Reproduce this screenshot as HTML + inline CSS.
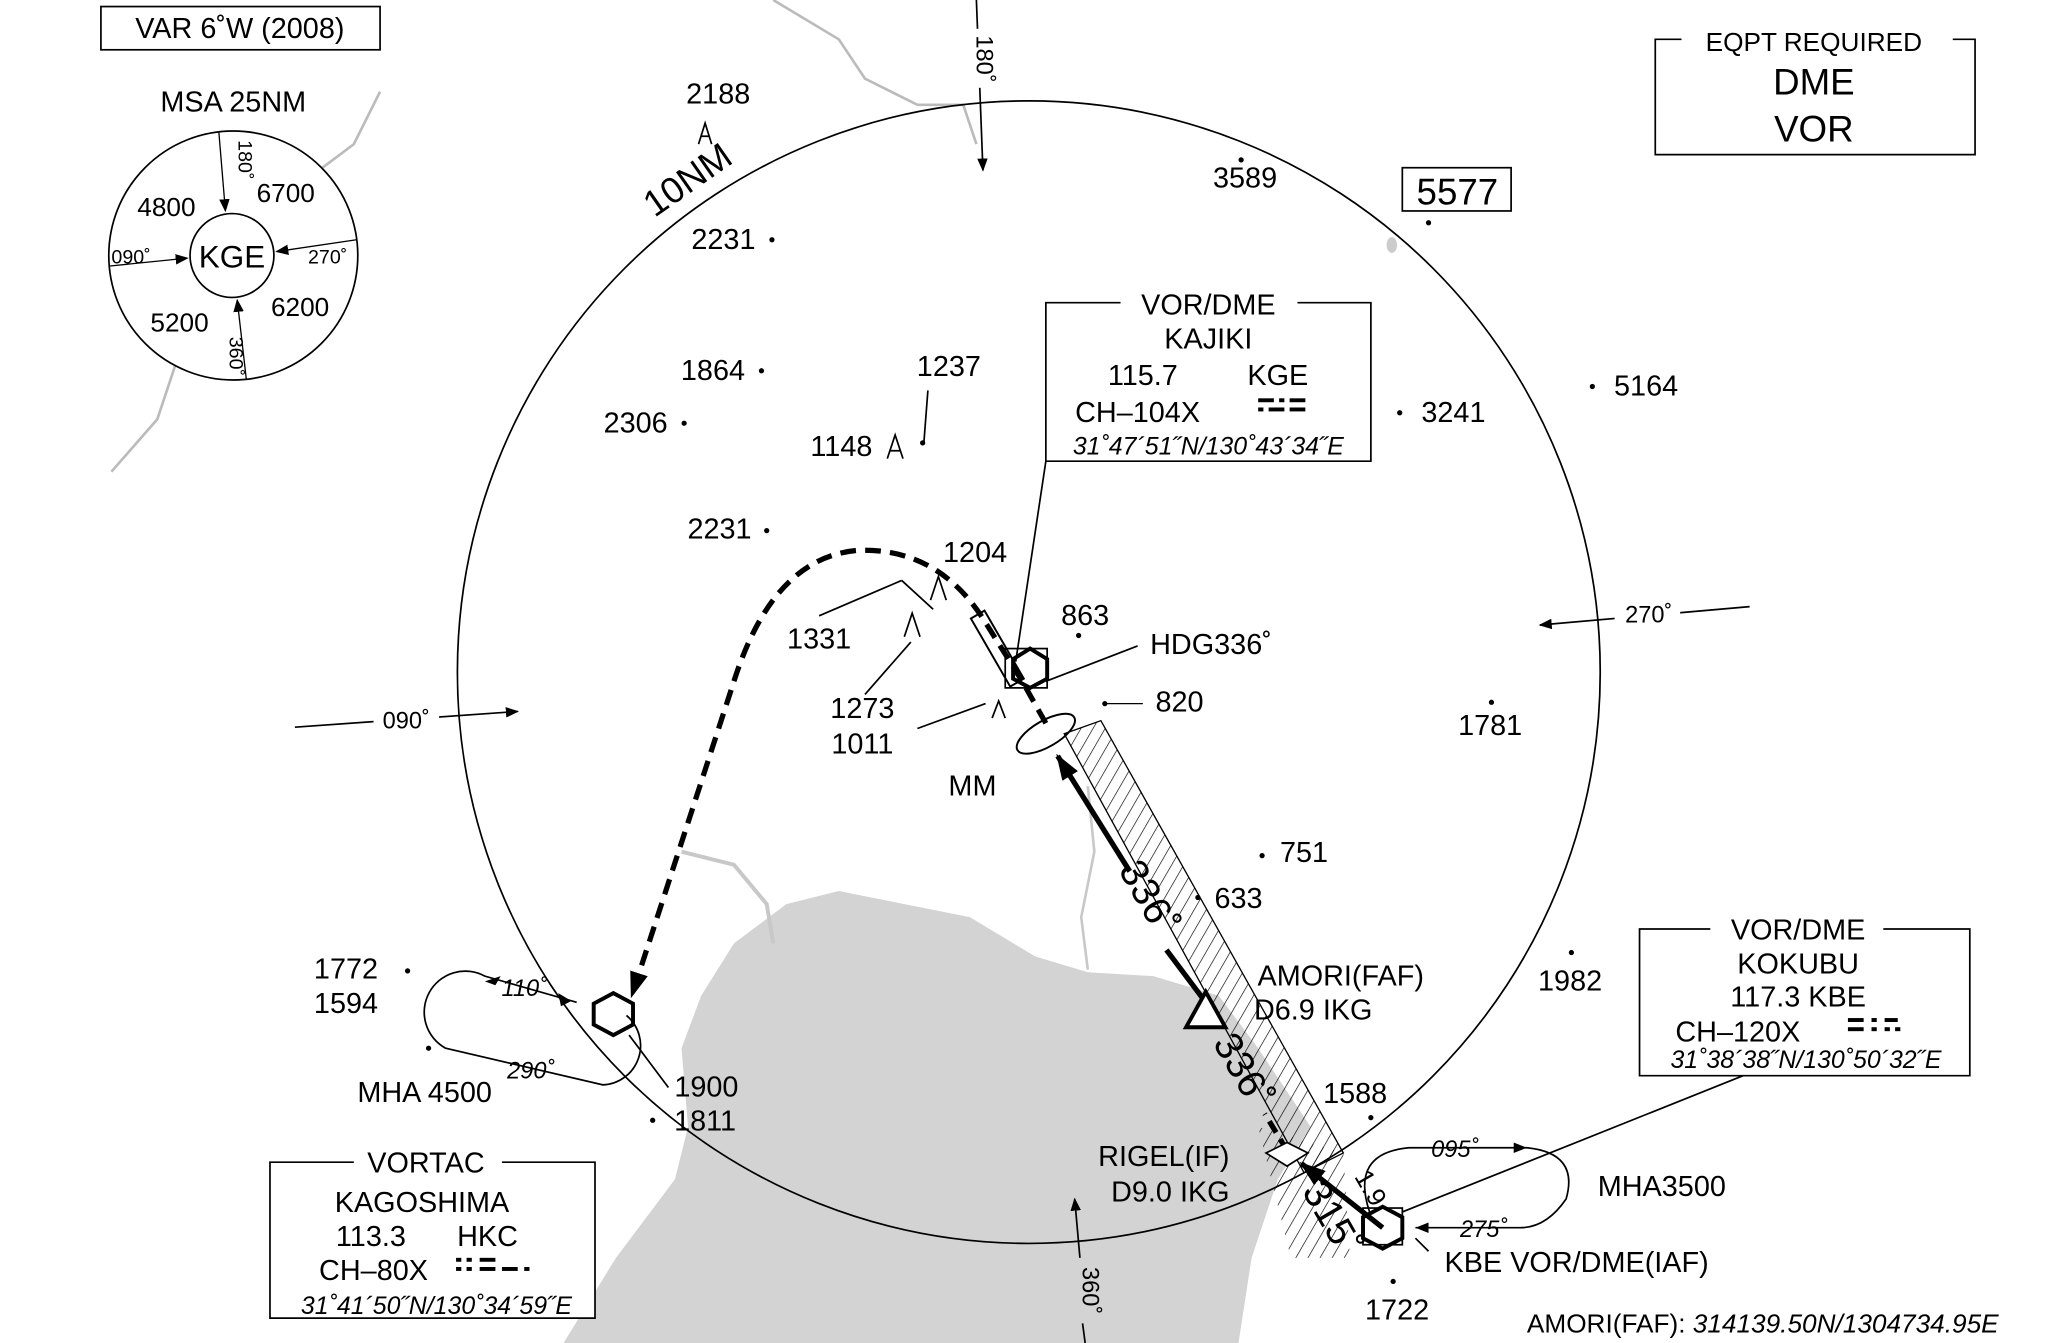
<!DOCTYPE html>
<html><head><meta charset="utf-8"><style>
html,body{margin:0;padding:0;background:#fff;}
svg{display:block;}
text{font-family:"Liberation Sans",sans-serif;fill:#000;}
</style></head><body>
<svg width="2055" height="1343" viewBox="0 0 1568 1025" preserveAspectRatio="none" xmlns="http://www.w3.org/2000/svg">
<defs>
<marker id="ar" markerWidth="10" markerHeight="8" refX="9" refY="4" orient="auto" markerUnits="userSpaceOnUse"><path d="M0,0 L10,4 L0,8 Z" fill="#000"/></marker>
<marker id="ab" markerWidth="20" markerHeight="14" refX="18" refY="7" orient="auto" markerUnits="userSpaceOnUse"><path d="M0,0 L20,7 L0,14 Z" fill="#000"/></marker>
<pattern id="hat" width="8" height="8" patternUnits="userSpaceOnUse" patternTransform="rotate(30)"><line x1="0" y1="0" x2="0" y2="8" stroke="#000" stroke-width="1"/></pattern>
</defs>
<!-- land -->
<path d="M430,1025 L470,960 L515,900 L525,860 L520,800 L535,760 L560,720 L600,690 L640,680 L690,690 L740,700 L790,730 L830,742 L880,745 L930,760 L960,800 L1000,860 L975,900 L955,960 L945,1025 Z" fill="#d3d3d3"/>
<path d="M520,650 L560,660 L585,690 L590,720" fill="none" stroke="#c8c8c8" stroke-width="3"/>
<path d="M830,600 L835,650 L825,700 L830,740" fill="none" stroke="#c8c8c8" stroke-width="2"/>
<path d="M590,0 L640,30 L660,60 L700,80 L735,80 L745,110" fill="none" stroke="#bbb" stroke-width="2"/>
<path d="M290,70 L270,110 L230,140 L200,150 L180,200 L140,260 L120,320 L85,360" fill="none" stroke="#bbb" stroke-width="2"/>
<ellipse cx="1062" cy="187" rx="4" ry="6" fill="#ccc"/>
<!-- hatched strip -->
<path d="M812,560 L840,550 L1025,880 L995,895 Z" fill="url(#hat)" stroke="#000" stroke-width="1"/>
<path d="M960,860 L1025,880 L1030,960 L985,960 Z" fill="url(#hat)"/>
<!-- main circle -->
<circle cx="785" cy="513" r="436" fill="none" stroke="#000" stroke-width="1.3"/>
<text x="530" y="145" font-size="28" transform="rotate(-35 530 145)" text-anchor="middle">10NM</text>
<!-- radials -->
<line x1="745" y1="0" x2="750" y2="130" stroke="#000" stroke-width="1.3" marker-end="url(#ar)"/>
<rect x="733" y="22" width="24" height="45" fill="#fff"/>
<text x="745" y="45" font-size="18" transform="rotate(90 745 45)" text-anchor="middle">180˚</text>
<line x1="225" y1="555" x2="395" y2="543" stroke="#000" stroke-width="1.3" marker-end="url(#ar)"/>
<rect x="285" y="537" width="50" height="22" fill="#fff"/><text x="310" y="556" font-size="18" text-anchor="middle">090˚</text>
<line x1="1335" y1="463" x2="1175" y2="477" stroke="#000" stroke-width="1.3" marker-end="url(#ar)"/>
<rect x="1232" y="457" width="50" height="22" fill="#fff"/><text x="1258" y="475" font-size="18" text-anchor="middle">270˚</text>
<line x1="828" y1="1025" x2="826" y2="1010" stroke="#000" stroke-width="1.3"/>
<line x1="824" y1="960" x2="820" y2="915" stroke="#000" stroke-width="1.3" marker-end="url(#ar)"/>
<text x="826" y="985" font-size="18" transform="rotate(90 826 985)" text-anchor="middle">360˚</text>
<!-- VAR box -->
<rect x="77" y="5" width="213" height="33" fill="none" stroke="#000" stroke-width="1.3"/>
<text x="183" y="29" font-size="22" text-anchor="middle">VAR 6˚W (2008)</text>
<!-- MSA -->
<text x="178" y="85" font-size="22" text-anchor="middle">MSA 25NM</text>
<circle cx="178" cy="195" r="95" fill="#fff" stroke="#000" stroke-width="1.3"/>
<circle cx="177" cy="195" r="32" fill="none" stroke="#000" stroke-width="1.3"/>
<text x="177" y="204" font-size="24" text-anchor="middle">KGE</text>
<line x1="167" y1="101" x2="172" y2="161" stroke="#000" marker-end="url(#ar)"/>
<line x1="188" y1="290" x2="181" y2="229" stroke="#000" marker-end="url(#ar)"/>
<line x1="84" y1="203" x2="143" y2="197" stroke="#000" marker-end="url(#ar)"/>
<line x1="272" y1="183" x2="211" y2="192" stroke="#000" marker-end="url(#ar)"/>
<text x="182" y="122" font-size="15" transform="rotate(90 182 122)" text-anchor="middle">180˚</text>
<text x="175" y="272" font-size="15" transform="rotate(90 175 272)" text-anchor="middle">360˚</text>
<text x="100" y="201" font-size="15" text-anchor="middle">090˚</text>
<text x="250" y="201" font-size="15" text-anchor="middle">270˚</text>
<text x="127" y="165" font-size="20" text-anchor="middle">4800</text>
<text x="218" y="154" font-size="20" text-anchor="middle">6700</text>
<text x="137" y="253" font-size="20" text-anchor="middle">5200</text>
<text x="229" y="241" font-size="20" text-anchor="middle">6200</text>
<!-- EQPT -->
<path d="M1283,30 L1263,30 L1263,118 L1507,118 L1507,30 L1490,30" fill="none" stroke="#000" stroke-width="1.3"/>
<text x="1384" y="39" font-size="20" text-anchor="middle">EQPT REQUIRED</text>
<text x="1384" y="72" font-size="28" text-anchor="middle">DME</text>
<text x="1384" y="108" font-size="28" text-anchor="middle">VOR</text>
<!-- 5577 -->
<rect x="1070" y="128" width="83" height="33" fill="none" stroke="#000" stroke-width="1.3"/>
<text x="1112" y="156" font-size="28" text-anchor="middle">5577</text>
<circle cx="1090" cy="170" r="2" fill="#000"/>
<!-- spot elevations -->
<g font-size="22">
<text x="548" y="79" text-anchor="middle">2188</text>
<text x="950" y="143" text-anchor="middle">3589</text><circle cx="947" cy="122" r="2"/>
<text x="552" y="190" text-anchor="middle">2231</text><circle cx="589" cy="183" r="2"/>
<text x="544" y="290" text-anchor="middle">1864</text><circle cx="581" cy="283" r="2"/>
<text x="724" y="287" text-anchor="middle">1237</text>
<text x="485" y="330" text-anchor="middle">2306</text><circle cx="522" cy="323" r="2"/>
<text x="642" y="348" text-anchor="middle">1148</text><circle cx="704" cy="338" r="2"/>
<text x="1109" y="322" text-anchor="middle">3241</text><circle cx="1068" cy="315" r="2"/>
<text x="1256" y="302" text-anchor="middle">5164</text><circle cx="1215" cy="295" r="2"/>
<text x="549" y="411" text-anchor="middle">2231</text><circle cx="585" cy="405" r="2"/>
<text x="744" y="429" text-anchor="middle">1204</text>
<text x="625" y="495" text-anchor="middle">1331</text>
<text x="828" y="477" text-anchor="middle">863</text><circle cx="823" cy="485" r="2"/>
<text x="658" y="548" text-anchor="middle">1273</text>
<text x="658" y="575" text-anchor="middle">1011</text>
<text x="900" y="543" text-anchor="middle">820</text><line x1="843" y1="537" x2="872" y2="537" stroke="#000"/><circle cx="843" cy="537" r="2"/>
<text x="1137" y="561" text-anchor="middle">1781</text><circle cx="1138" cy="536" r="2"/>
<text x="742" y="607" text-anchor="middle">MM</text>
<text x="995" y="658" text-anchor="middle">751</text><circle cx="963" cy="653" r="2"/>
<text x="945" y="693" text-anchor="middle">633</text><circle cx="914" cy="685" r="2"/>
<text x="1198" y="756" text-anchor="middle">1982</text><circle cx="1199" cy="727" r="2"/>
<text x="264" y="747" text-anchor="middle">1772</text><circle cx="311" cy="741" r="2"/>
<text x="264" y="773" text-anchor="middle">1594</text><circle cx="327" cy="800" r="2"/>
<text x="324" y="841" text-anchor="middle">MHA 4500</text>
<text x="539" y="837" text-anchor="middle">1900</text>
<text x="538" y="863" text-anchor="middle">1811</text><circle cx="498" cy="855" r="2"/>
<text x="1034" y="842" text-anchor="middle">1588</text><circle cx="1046" cy="853" r="2"/>
<text x="1023" y="752" text-anchor="middle">AMORI(FAF)</text>
<text x="1002" y="778" text-anchor="middle">D6.9 IKG</text>
<text x="888" y="890" text-anchor="middle">RIGEL(IF)</text>
<text x="893" y="917" text-anchor="middle">D9.0 IKG</text>
<text x="1268" y="913" text-anchor="middle">MHA3500</text>
<text x="1203" y="971" text-anchor="middle">KBE VOR/DME(IAF)</text>
<text x="1066" y="1007" text-anchor="middle">1722</text><circle cx="1063" cy="978" r="2"/>
<text x="924" y="499" text-anchor="middle">HDG336˚</text>
</g>
<text x="1525" y="1017" font-size="20" text-anchor="end">AMORI(FAF): <tspan font-style="italic">314139.50N/1304734.95E</tspan></text>
<!-- obstacle symbols -->
<g fill="none" stroke="#000" stroke-width="1.3">
<path d="M533,110 L538,94 L543,110 M535,104 L541,104"/>
<path d="M677,350 L683,332 L689,350 M679,344 L687,344"/>
<path d="M710,458 L716,440 L722,458"/>
<path d="M690,486 L696,468 L702,486"/>
<path d="M757,548 L762,535 L767,548"/>
<line x1="705" y1="337" x2="708" y2="298"/>
<line x1="625" y1="470" x2="688" y2="443"/>
<line x1="688" y1="443" x2="712" y2="465"/>
<line x1="700" y1="556" x2="752" y2="537"/>
<line x1="695" y1="490" x2="660" y2="530"/>
<line x1="798" y1="520" x2="868" y2="493"/>
<line x1="775" y1="505" x2="798" y2="352"/>
<line x1="1070" y1="925" x2="1330" y2="821"/>
<line x1="1080" y1="945" x2="1090" y2="955"/>
<line x1="480" y1="790" x2="510" y2="830"/>
</g>
<!-- KAJIKI box -->
<path d="M855,231 L798,231 L798,352 L1046,352 L1046,231 L990,231" fill="#fff" stroke="#000" stroke-width="1.3"/>
<g font-size="22" text-anchor="middle">
<text x="922" y="240">VOR/DME</text><text x="922" y="266">KAJIKI</text>
<text x="872" y="294">115.7</text><text x="975" y="294">KGE</text>
<text x="868" y="322">CH–104X</text>
</g>
<text x="922" y="347" font-size="19" font-style="italic" text-anchor="middle">31˚47´51˝N/130˚43´34˝E</text>
<g fill="#000"><rect x="960" y="304" width="12" height="3"/><rect x="976" y="304" width="4" height="3"/><rect x="984" y="304" width="12" height="3"/><rect x="960" y="311" width="4" height="3"/><rect x="968" y="311" width="12" height="3"/><rect x="984" y="311" width="12" height="3"/></g>
<!-- KOKUBU box -->
<path d="M1305,709 L1251,709 L1251,821 L1503,821 L1503,709 L1437,709" fill="#fff" stroke="#000" stroke-width="1.3"/>
<g font-size="22" text-anchor="middle">
<text x="1372" y="717">VOR/DME</text><text x="1372" y="743">KOKUBU</text>
<text x="1372" y="768">117.3 KBE</text><text x="1326" y="795">CH–120X</text>
</g>
<text x="1378" y="815" font-size="19" font-style="italic" text-anchor="middle">31˚38´38˝N/130˚50´32˝E</text>
<g fill="#000"><rect x="1410" y="777" width="12" height="3"/><rect x="1410" y="784" width="12" height="3"/><rect x="1428" y="777" width="4" height="3"/><rect x="1428" y="784" width="4" height="3"/><rect x="1438" y="777" width="10" height="3"/><rect x="1438" y="784" width="4" height="3"/><rect x="1446" y="784" width="4" height="3"/></g>
<!-- VORTAC box -->
<path d="M270,887 L206,887 L206,1006 L454,1006 L454,887 L383,887" fill="#fff" stroke="#000" stroke-width="1.3"/>
<g font-size="22" text-anchor="middle">
<text x="325" y="895">VORTAC</text><text x="322" y="925">KAGOSHIMA</text>
<text x="283" y="951">113.3</text><text x="372" y="951">HKC</text>
<text x="285" y="977">CH–80X</text>
</g>
<text x="333" y="1003" font-size="19" font-style="italic" text-anchor="middle">31˚41´50˝N/130˚34´59˝E</text>
<g fill="#000"><rect x="348" y="960" width="4" height="3"/><rect x="356" y="960" width="4" height="3"/><rect x="348" y="967" width="4" height="3"/><rect x="356" y="967" width="4" height="3"/><rect x="366" y="960" width="12" height="3"/><rect x="366" y="967" width="12" height="3"/><rect x="383" y="967" width="12" height="3"/><rect x="400" y="967" width="4" height="3"/></g>
<!-- flight tracks -->
<g fill="none" stroke="#000">
<line x1="1055" y1="937" x2="993" y2="888" stroke-width="4" marker-end="url(#ab)"/>
<line x1="982" y1="878" x2="965" y2="850" stroke-width="4" stroke-dasharray="10,6"/>
<line x1="920" y1="765" x2="890" y2="725" stroke-width="4"/>
<line x1="862" y1="665" x2="807" y2="577" stroke-width="4" marker-end="url(#ab)"/>
<path d="M798,552 L780,520 L750,472 Q715,418 655,420 Q590,425 560,520 L482,760" stroke-width="4" stroke-dasharray="12,7" marker-end="url(#ab)"/>
<rect x="755" y="465" width="12" height="60" transform="rotate(-30 761 495)" stroke-width="1.5"/>
<ellipse cx="798" cy="560" rx="25" ry="10" transform="rotate(-30 798 560)" stroke-width="1.5"/>
<!-- holds -->
<path d="M440,765 L370,745 A30,30 0 0 0 340,800 L460,828 A30,30 0 0 0 478,775" stroke-width="1.3"/>
<path d="M1045,925 Q1030,880 1075,876 L1165,876 Q1205,880 1195,915 Q1180,937 1160,937 L1080,937" stroke-width="1.3"/>
<!-- hexagons -->
<rect x="767" y="495" width="32" height="30" stroke-width="1.3"/>
<path d="M786,495 L799,503 L799,518 L786,525 L773,518 L773,503 Z" stroke-width="3"/>
<rect x="1040" y="922" width="30" height="28" stroke-width="1.3"/>
<path d="M1055,921 L1070,929 L1070,945 L1055,953 L1040,945 L1040,929 Z" stroke-width="3"/>
<path d="M468,758 L483,766 L483,782 L468,790 L453,782 L453,766 Z" stroke-width="3"/>
<path d="M905,784 L920,757 L935,784 Z" stroke-width="3" fill="#fff"/>
<path d="M982,872 L998,880 L982,890 L966,880 Z" stroke-width="1.3" fill="#fff"/>
</g>
<g fill="#000"><path d="M370,749 L382,745 L378,752 Z"/><path d="M436,764 L426,758 L428,768 Z"/><path d="M1165,876 L1155,872 L1155,880 Z"/><path d="M1080,937 L1090,933 L1090,941 Z"/></g>
<g font-size="18" font-style="italic" text-anchor="middle">
<text x="400" y="760">110˚</text><text x="405" y="823">290˚</text>
<text x="1110" y="883">095˚</text><text x="1132" y="944">275˚</text>
</g>
<g font-size="30" text-anchor="middle">
<text x="868" y="690" transform="rotate(60 868 690)">336˚</text>
<text x="940" y="822" transform="rotate(60 940 822)">336˚</text>
<text x="1008" y="935" transform="rotate(60 1008 935)">315˚</text>
</g>
<text x="1040" y="910" font-size="20" transform="rotate(60 1040 910)" text-anchor="middle">1.9</text>
</svg>
</body></html>
